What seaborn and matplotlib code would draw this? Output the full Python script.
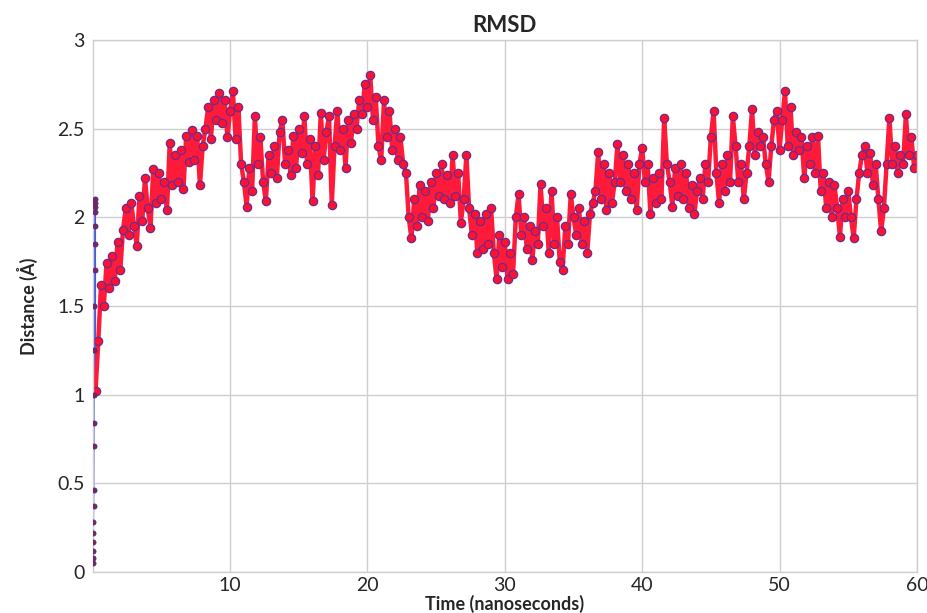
import numpy as np
import pandas as pd
import matplotlib
matplotlib.use('Agg')
import matplotlib.pyplot as plt
import seaborn as sns

# first steps of the trajectory (0.01 ns spacing), the jump from ~0 to ~2.1 A
early_step = 0.01
early_rmsd = [0.05, 0.08, 0.12, 0.17, 0.22, 0.28, 0.37, 0.46, 0.71, 0.84,
              1.00, 1.25, 1.50, 1.70, 1.85, 1.95, 2.03, 2.08, 2.10, 2.06]

# rest of the run, every 0.2 ns (one row per ns)
main_start = 0.2
main_step = 0.2
main_rmsd = [
    1.02, 1.30, 1.62, 1.50, 1.74,
    1.60, 1.78, 1.64, 1.86, 1.70,
    1.93, 2.05, 1.90, 2.08, 1.95,
    1.84, 2.12, 1.98, 2.22, 2.05,
    1.94, 2.27, 2.08, 2.25, 2.10,
    2.20, 2.04, 2.42, 2.18, 2.35,
    2.20, 2.38, 2.16, 2.46, 2.31,
    2.49, 2.32, 2.46, 2.18, 2.40,
    2.50, 2.62, 2.44, 2.66, 2.55,
    2.70, 2.53, 2.66, 2.45, 2.60,
    2.71, 2.44, 2.62, 2.30, 2.20,
    2.06, 2.28, 2.15, 2.57, 2.30,
    2.45, 2.20, 2.09, 2.35, 2.25,
    2.40, 2.22, 2.48, 2.55, 2.30,
    2.38, 2.24, 2.46, 2.28, 2.50,
    2.36, 2.57, 2.30, 2.44, 2.09,
    2.40, 2.24, 2.59, 2.32, 2.48,
    2.57, 2.07, 2.40, 2.60, 2.38,
    2.50, 2.28, 2.55, 2.42, 2.58,
    2.50, 2.66, 2.58, 2.75, 2.62,
    2.80, 2.55, 2.68, 2.40, 2.32,
    2.66, 2.45, 2.60, 2.38, 2.50,
    2.32, 2.45, 2.30, 2.25, 2.00,
    1.88, 2.10, 1.95, 2.18, 2.00,
    2.15, 1.98, 2.20, 2.05, 2.25,
    2.12, 2.30, 2.10, 2.24, 2.08,
    2.35, 2.12, 2.25, 1.97, 2.10,
    2.35, 2.05, 1.90, 2.02, 1.80,
    1.98, 1.82, 2.02, 1.85, 2.05,
    1.80, 1.65, 1.90, 1.72, 1.86,
    1.65, 1.80, 1.68, 2.00, 2.13,
    1.90, 2.00, 1.82, 1.95, 1.76,
    1.92, 1.85, 2.19, 1.95, 2.05,
    1.80, 2.15, 1.85, 2.00, 1.75,
    1.70, 1.95, 1.85, 2.13, 2.00,
    1.90, 2.05, 1.85, 1.98, 1.80,
    2.02, 2.08, 2.15, 2.37, 2.10,
    2.30, 2.04, 2.25, 2.08, 2.20,
    2.41, 2.20, 2.35, 2.15, 2.30,
    2.10, 2.25, 2.04, 2.30, 2.39,
    2.20, 2.30, 2.02, 2.22, 2.08,
    2.25, 2.10, 2.56, 2.30, 2.20,
    2.06, 2.28, 2.12, 2.30, 2.10,
    2.25, 2.05, 2.18, 2.02, 2.15,
    2.22, 2.10, 2.30, 2.20, 2.45,
    2.60, 2.25, 2.08, 2.30, 2.15,
    2.35, 2.20, 2.57, 2.40, 2.20,
    2.30, 2.10, 2.25, 2.40, 2.61,
    2.35, 2.48, 2.40, 2.45, 2.30,
    2.20, 2.40, 2.55, 2.60, 2.38,
    2.55, 2.71, 2.40, 2.62, 2.35,
    2.48, 2.38, 2.45, 2.22, 2.40,
    2.30, 2.45, 2.25, 2.46, 2.15,
    2.25, 2.05, 2.20, 2.00, 2.18,
    2.05, 1.89, 2.10, 2.00, 2.15,
    2.00, 1.88, 2.10, 2.25, 2.35,
    2.40, 2.25, 2.36, 2.18, 2.30,
    2.10, 1.92, 2.05, 2.30, 2.56,
    2.30, 2.40, 2.25, 2.35, 2.30,
    2.58, 2.35, 2.45, 2.28, 2.35,
]

x_ticks = [10, 20, 30, 40, 50, 60]
y_ticks = [0, 0.5, 1, 1.5, 2, 2.5, 3]
y_tick_labels = ['0', '0.5', '1', '1.5', '2', '2.5', '3']

# time axis
early_t = [i * early_step for i in range(len(early_rmsd))]
main_t = [main_start + i * main_step for i in range(len(main_rmsd))]
df = pd.DataFrame({'time': early_t + main_t, 'rmsd': early_rmsd + main_rmsd})
df_main = pd.DataFrame({'time': main_t, 'rmsd': main_rmsd})

sns.set_style('whitegrid', {'grid.color': '#cfcfcf', 'axes.edgecolor': '#cfcfcf'})
plt.rcParams['font.family'] = ['Lato', 'DejaVu Sans']

fig = plt.figure(figsize=(9.28, 6.13), dpi=100)
ax = fig.add_axes([0.100, 0.067, 0.888, 0.868])

# thin blue connecting line over the whole run
sns.lineplot(data=df, x='time', y='rmsd', ax=ax, sort=False,
             color='#4a5ad6', linewidth=0.9)
# dense red ribbon for the fluctuating part
sns.lineplot(data=df_main, x='time', y='rmsd', ax=ax, sort=False,
             color='#ff1a3a', linewidth=3.2,
             marker='o', markersize=6,
             markerfacecolor='#ff1030', markeredgecolor='#6b2c8c',
             markeredgewidth=0.9)
# the first points
sns.scatterplot(x=early_t, y=early_rmsd, ax=ax, s=14, color='#7a2460',
                edgecolor='#4b2a80', linewidth=0.5, zorder=4)

ax.set_xlim(0, 60)
ax.set_ylim(0, 3)
ax.set_xticks(x_ticks)
ax.set_yticks(y_ticks)
ax.set_yticklabels(y_tick_labels)
ax.tick_params(axis='both', length=0, labelsize=14, pad=6)
ax.tick_params(axis='x', pad=4)
for sp in ax.spines.values():
    sp.set_color('#cfcfcf')
    sp.set_linewidth(1)
ax.grid(True, color='#cfcfcf', linewidth=1)

ax.set_title('RMSD', fontsize=16, fontweight='bold', pad=6)
ax.set_xlabel('Time (nanoseconds)', fontsize=13, fontweight='bold', labelpad=0)
ax.set_ylabel('Distance (Å)', fontsize=13, fontweight='bold', labelpad=14)

fig.savefig('out.png', dpi=100)
